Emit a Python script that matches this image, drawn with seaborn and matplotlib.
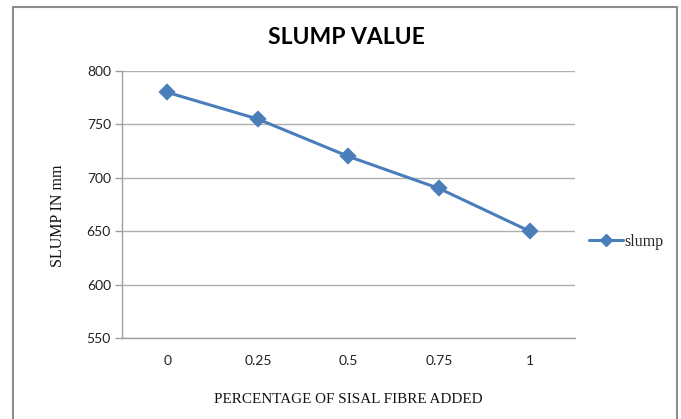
import matplotlib
matplotlib.use("Agg")
import matplotlib.pyplot as plt
import seaborn as sns
import pandas as pd
import numpy as np
from matplotlib.patches import Rectangle
from matplotlib.lines import Line2D

categories = ["0", "0.25", "0.5", "0.75", "1"]
slump = [780, 755, 720, 690, 650]
yticks = [550, 600, 650, 700, 750, 800]

sns.set_theme(style="white")

W, H = 681, 419
fig = plt.figure(figsize=(W / 100, H / 100), dpi=100)
ax = fig.add_axes([122 / W, (H - 338) / H, (575 - 122) / W, (338 - 71) / H])

df = pd.DataFrame({"pct": categories, "slump": slump})
color = "#4A7EBB"
sns.pointplot(data=df, x="pct", y="slump", order=categories, color=color,
              markers="D", markersize=7, linewidth=2.2, ax=ax, errorbar=None)

ax.set_xlim(-0.5, len(categories) - 0.5)
ax.set_ylim(yticks[0], yticks[-1])
ax.set_yticks(yticks)
ax.set_yticklabels([str(v) for v in yticks], fontsize=10, family="Lato", color="#222222")
ax.set_xticks(range(len(categories)))
ax.set_xticklabels(categories, fontsize=10, family="Lato", color="#222222")
ax.set_xticks(np.arange(-0.5, len(categories), 1.0), minor=True)
ax.tick_params(axis="x", which="major", length=0, pad=12)
ax.tick_params(axis="x", which="minor", length=5, color="#A0A0A0", direction="out", width=1)
ax.tick_params(axis="y", which="major", length=5, color="#A0A0A0", direction="out", width=1, pad=3, left=True)

ax.grid(axis="y", color="#B0B0B0", linewidth=1)
ax.set_axisbelow(True)
for s in ["top", "right"]:
    ax.spines[s].set_visible(False)
for s in ["left", "bottom"]:
    ax.spines[s].set_color("#A0A0A0")
    ax.spines[s].set_linewidth(1)

ax.set_xlabel("PERCENTAGE OF SISAL FIBRE ADDED", family="Liberation Serif", fontsize=10.9,
              color="#111111", labelpad=19)
ax.set_ylabel("SLUMP IN mm", family="Liberation Serif", fontsize=11.5, color="#111111")
ax.yaxis.set_label_coords((66 - 122) / 453, (338 - 216) / 267)

fig.text(346 / W, 1 - 37 / H, "SLUMP VALUE", family="Lato", fontweight="bold",
         fontsize=16.5, ha="center", va="center", color="#000000")

handle = Line2D([], [], color=color, linewidth=2.2, marker="D", markersize=6)
leg = ax.legend([handle], ["slump"], loc="center left", bbox_to_anchor=(1.0, 0.36),
                frameon=False, handlelength=2.1, handletextpad=0.1,
                prop={"family": "Liberation Serif", "size": 11.5})

fig.patches.append(Rectangle((12.5 / W, -0.05), (677 - 12.5) / W, 1.05 - 7.5 / H,
                             transform=fig.transFigure, fill=False,
                             edgecolor="#8C8C8C", linewidth=1.5))

fig.savefig("out.png", dpi=100)
